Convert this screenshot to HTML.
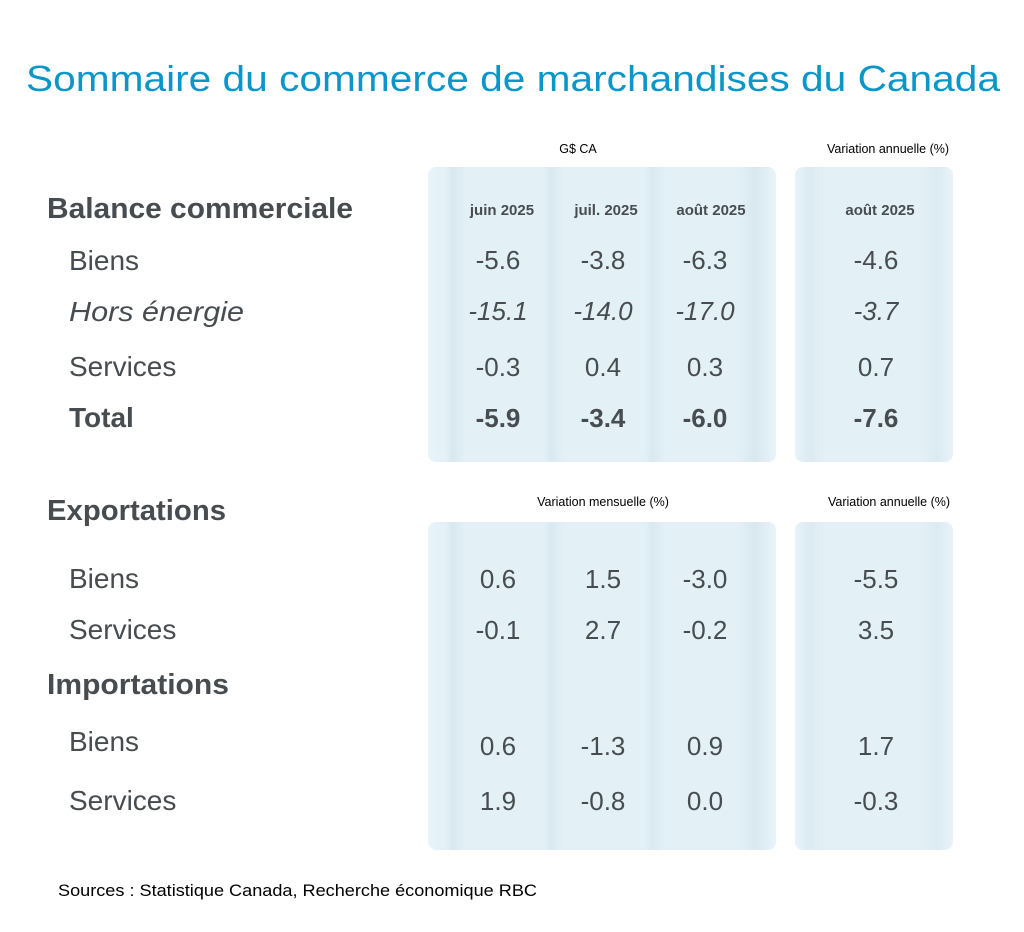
<!DOCTYPE html>
<html><head><meta charset="utf-8"><style>body{margin:0;background:#fff}svg{display:block}</style></head><body>
<svg width="1024" height="932" viewBox="0 0 1024 932" xmlns="http://www.w3.org/2000/svg" font-family="Liberation Sans, sans-serif">
<defs>
<linearGradient id="g3" x1="428" x2="776" gradientUnits="userSpaceOnUse">
<stop offset="0" stop-color="#e8f4f9"/><stop offset="0.05" stop-color="#e3f1f7"/><stop offset="0.07" stop-color="#d9e8ef"/><stop offset="0.11" stop-color="#e3f1f7"/>
<stop offset="0.33" stop-color="#e3f1f7"/><stop offset="0.355" stop-color="#dae9f0"/><stop offset="0.39" stop-color="#e3f1f7"/>
<stop offset="0.62" stop-color="#e3f1f7"/><stop offset="0.645" stop-color="#dae9f0"/><stop offset="0.68" stop-color="#e3f1f7"/>
<stop offset="0.89" stop-color="#e3f1f7"/><stop offset="0.94" stop-color="#d9e8ef"/><stop offset="1" stop-color="#e8f4f9"/>
</linearGradient>
<linearGradient id="g1" x1="795" x2="953" gradientUnits="userSpaceOnUse">
<stop offset="0" stop-color="#e8f4f9"/><stop offset="0.1" stop-color="#dceaf1"/><stop offset="0.2" stop-color="#e3f1f7"/>
<stop offset="0.8" stop-color="#e3f1f7"/><stop offset="0.9" stop-color="#dceaf1"/><stop offset="1" stop-color="#e8f4f9"/>
</linearGradient>
</defs>
<rect x="428" y="167" width="348" height="295" rx="8" fill="url(#g3)"/>
<rect x="795" y="167" width="158" height="295" rx="8" fill="url(#g1)"/>
<rect x="428" y="522" width="348" height="328" rx="8" fill="url(#g3)"/>
<rect x="795" y="522" width="158" height="328" rx="8" fill="url(#g1)"/>

<text x="26" y="91" font-size="36" fill="#0a96c8" textLength="974" lengthAdjust="spacingAndGlyphs">Sommaire du commerce de marchandises du Canada</text>

<g fill="#000" font-size="12.5" text-anchor="middle">
<text x="578" y="153">G$ CA</text>
<text x="888" y="153">Variation annuelle (%)</text>
<text x="603" y="506">Variation mensuelle (%)</text>
<text x="889" y="506">Variation annuelle (%)</text>
</g>

<g fill="#474c50">
<text x="47" y="218" font-size="29" font-weight="bold" textLength="306" lengthAdjust="spacingAndGlyphs">Balance commerciale</text>
<text x="47" y="520" font-size="29" font-weight="bold" textLength="179" lengthAdjust="spacingAndGlyphs">Exportations</text>
<text x="47" y="694" font-size="29" font-weight="bold" textLength="182" lengthAdjust="spacingAndGlyphs">Importations</text>
<g font-size="28">
<text x="69" y="270">Biens</text>
<text x="69" y="321" font-style="italic" textLength="175" lengthAdjust="spacingAndGlyphs">Hors énergie</text>
<text x="69" y="376">Services</text>
<text x="69" y="427" font-weight="bold">Total</text>
<text x="69" y="588">Biens</text>
<text x="69" y="639">Services</text>
<text x="69" y="751">Biens</text>
<text x="69" y="810">Services</text>
</g>
<g font-size="15" font-weight="bold" text-anchor="middle">
<text x="502" y="215">juin 2025</text><text x="606" y="215">juil. 2025</text><text x="711" y="215">août 2025</text><text x="880" y="215">août 2025</text>
</g>
<g font-size="26" text-anchor="middle">
<text x="498" y="269">-5.6</text><text x="603" y="269">-3.8</text><text x="705" y="269">-6.3</text><text x="876" y="269">-4.6</text>
<g font-style="italic"><text x="498" y="320">-15.1</text><text x="603" y="320">-14.0</text><text x="705" y="320">-17.0</text><text x="876" y="320">-3.7</text></g>
<text x="498" y="376">-0.3</text><text x="603" y="376">0.4</text><text x="705" y="376">0.3</text><text x="876" y="376">0.7</text>
<g font-weight="bold"><text x="498" y="427">-5.9</text><text x="603" y="427">-3.4</text><text x="705" y="427">-6.0</text><text x="876" y="427">-7.6</text></g>
<text x="498" y="588">0.6</text><text x="603" y="588">1.5</text><text x="705" y="588">-3.0</text><text x="876" y="588">-5.5</text>
<text x="498" y="639">-0.1</text><text x="603" y="639">2.7</text><text x="705" y="639">-0.2</text><text x="876" y="639">3.5</text>
<text x="498" y="755">0.6</text><text x="603" y="755">-1.3</text><text x="705" y="755">0.9</text><text x="876" y="755">1.7</text>
<text x="498" y="810">1.9</text><text x="603" y="810">-0.8</text><text x="705" y="810">0.0</text><text x="876" y="810">-0.3</text>
</g>
</g>
<text x="58" y="896" font-size="17" fill="#000" textLength="479" lengthAdjust="spacingAndGlyphs">Sources : Statistique Canada, Recherche économique RBC</text>
</svg>
</body></html>
